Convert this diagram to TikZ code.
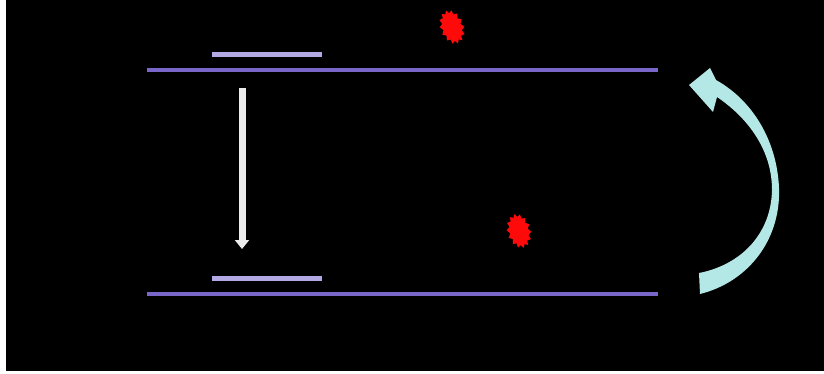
\documentclass[tikz,border=0pt]{standalone}
\usetikzlibrary{arrows.meta, shapes.symbols}
\definecolor{mPurple}{HTML}{7866C8}
\definecolor{mLavender}{HTML}{B2A8E4}
\definecolor{mCyan}{HTML}{B4E8E6}
\definecolor{mRed}{HTML}{FF0A0A}

\begin{document}
\begin{tikzpicture}[x=1pt, y=-1pt,
    level/.style={mPurple, line width=4.5pt},
    sublevel/.style={mLavender, line width=4.5pt},
    flash/.style={shape=starburst, fill=mRed, draw=none, starburst points=14,
      starburst point height=3pt, random starburst=0, minimum width=24pt,
      minimum height=35pt, inner sep=0pt}]
    % background
    \fill[white] (0,0) rectangle (824,373);
    \fill[black] (6,0) rectangle (824,371);
    % levels
    \foreach \n/\y in {up/70, low/294} {
      \coordinate (\n-a) at (147,\y);
      \coordinate (\n-b) at (658,\y);
      \coordinate (\n-s) at (212,\y-15.5);
      \coordinate (\n-t) at (322,\y-15.5);
      \draw[level] (\n-a) -- (\n-b);
      \draw[sublevel] (\n-s) -- (\n-t);
    }
    % decay
    \coordinate (fall-top) at (242,88);
    \coordinate (fall-end) at (242,249);
    \draw[line width=7pt, white!85!gray, -{Triangle[width=14pt,length=9pt]}] (fall-top) -- (fall-end);
    % flashes
    \node[flash, rotate=20] (flash-up) at (452,27) {};
    \node[flash, rotate=15] (flash-low) at (519,231) {};
    % pump
    \coordinate (pump-tail) at (700,294);
    \coordinate (pump-tip) at (689,85);
    \fill[mCyan] (pump-tail)
      .. controls (748,282) and (781,240) .. (779,188)
      .. controls (777,140) and (752,100) .. (716,80)
      -- (710,68) -- (pump-tip) -- (713,112) -- (717,97)
      .. controls (748,118) and (772,150) .. (772,190)
      .. controls (771,235) and (740,265) .. (699,273) -- cycle;
\end{tikzpicture}
\end{document}
